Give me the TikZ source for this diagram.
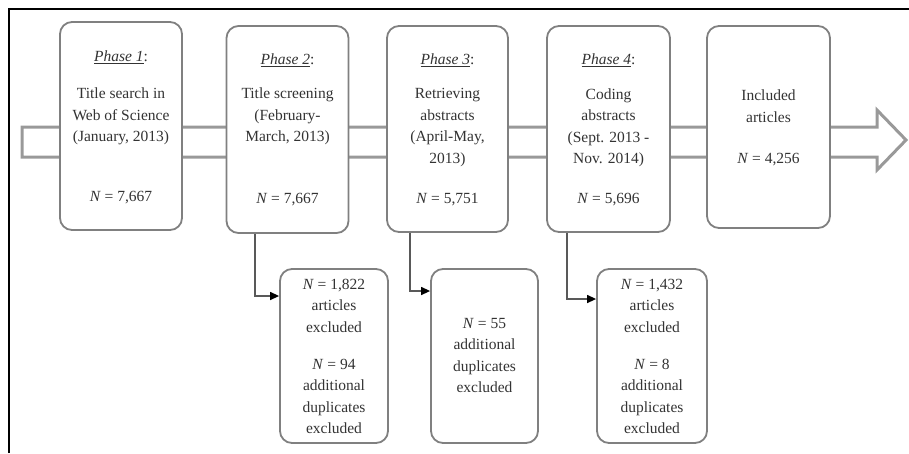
\documentclass[tikz,border=0pt]{standalone}
\usepackage{fontspec}
\setmainfont{Liberation Serif}
\usetikzlibrary{arrows.meta}
\definecolor{boxgray}{gray}{0.5}
\definecolor{shaftgray}{gray}{0.6}
\begin{document}
\begin{tikzpicture}[x=1pt,y=-1pt,
  box/.style={draw=boxgray,line width=1.8pt,rounded corners=12pt,fill=white,inner sep=0pt},
  txt/.style={align=center,font=\fontsize{15.5}{21.5}\selectfont,text=black!80,inner sep=0pt},
  conn/.style={draw=black!65,line width=1.3pt,-{Triangle[length=9pt,width=8pt,color=black]}},
  shaft/.style={draw=shaftgray,line width=3pt,line join=miter}]
\useasboundingbox (0,0) rectangle (909,453);
% frame
\draw[line width=1.5pt] (9,453) -- (9,9) -- (909,9);
% big hollow arrow
\draw[shaft] (22,127) -- (877,127) -- (877,110) -- (906,140) -- (877,170) -- (877,157) -- (22,157) -- cycle;
% main boxes
\node[box,minimum width=122pt,minimum height=208pt] (p1) at (121,126) {};
\node[box,minimum width=122pt,minimum height=207pt] (p2) at (287.5,129.5) {};
\node[box,minimum width=121pt,minimum height=206pt] (p3) at (447.5,129) {};
\node[box,minimum width=123pt,minimum height=206pt] (p4) at (608.5,129) {};
\node[box,minimum width=123pt,minimum height=202pt] (p5) at (768.5,127) {};
% exclusion boxes
\node[box,minimum width=108pt,minimum height=174pt] (e1) at (334,356) {};
\node[box,minimum width=107pt,minimum height=174pt] (e2) at (484.5,356) {};
\node[box,minimum width=110pt,minimum height=174pt] (e3) at (652,356) {};
% texts of phase 1
\node[txt] (p1a) at (121,57) {\underline{\textit{Phase 1}}:};
\node[txt] (p1b) at (121,116.5) {Title search in\\Web of Science\\(January, 2013)};
\node[txt] (p1c) at (121,198) {\textit{N} = 7,667};
% phase 2
\node[txt] (p2a) at (287.5,60) {\underline{\textit{Phase 2}}:};
\node[txt] (p2b) at (287.5,116.5) {Title screening\\(February-\\March, 2013)};
\node[txt] (p2c) at (287.5,200) {\textit{N} = 7,667};
% phase 3
\node[txt] (p3a) at (447.5,60) {\underline{\textit{Phase 3}}:};
\node[txt] (p3b) at (447.5,127.5) {Retrieving\\abstracts\\(April-May,\\2013)};
\node[txt] (p3c) at (447.5,200) {\textit{N} = 5,751};
% phase 4
\node[txt] (p4a) at (608.5,60) {\underline{\textit{Phase 4}}:};
\node[txt] (p4b) at (608.5,128) {Coding\\abstracts\\(Sept. 2013 -\\Nov. 2014)};
\node[txt] (p4c) at (608.5,200) {\textit{N} = 5,696};
% included
\node[txt] (p5a) at (768.5,106) {Included\\articles};
\node[txt] (p5b) at (768.5,160) {\textit{N} = 4,256};
% exclusions
\node[txt] (e1a) at (334,305.5) {\textit{N} = 1,822\\articles\\excluded};
\node[txt] (e1b) at (334,396.5) {\textit{N} = 94\\additional\\duplicates\\excluded};
\node[txt] (e2a) at (484.5,355.5) {\textit{N} = 55\\additional\\duplicates\\excluded};
\node[txt] (e3a) at (652,305.5) {\textit{N} = 1,432\\articles\\excluded};
\node[txt] (e3b) at (652,396.5) {\textit{N} = 8\\additional\\duplicates\\excluded};
% connectors
\coordinate (k1) at (255,296);
\coordinate (k2) at (410,291);
\coordinate (k3) at (567,299);
\draw[conn] (k1 |- p2.south) |- (e1.west |- k1);
\draw[conn] (k2 |- p3.south) |- (e2.west |- k2);
\draw[conn] (k3 |- p4.south) |- (e3.west |- k3);
\end{tikzpicture}
\end{document}
